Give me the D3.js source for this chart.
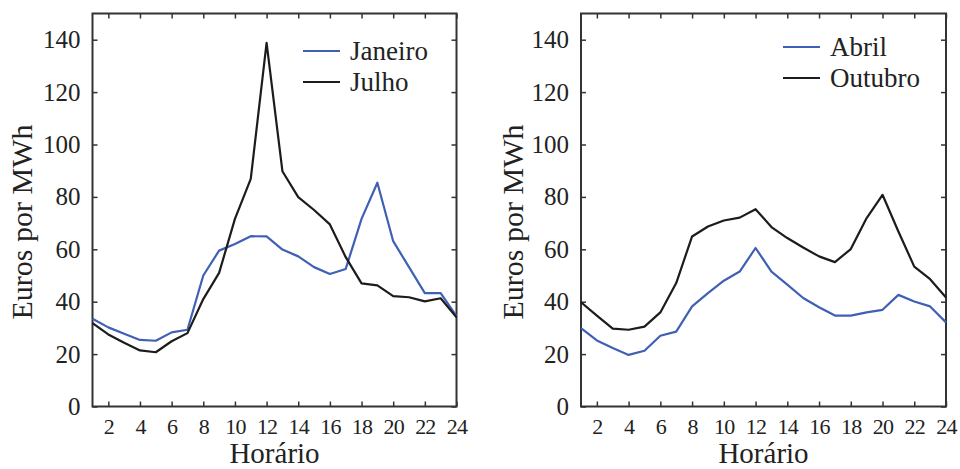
<!DOCTYPE html>
<html><head><meta charset="utf-8">
<script src="https://cdn.jsdelivr.net/npm/d3@7"></script>
<style>body{margin:0;background:#fff}svg{display:block}</style>
</head><body><svg id="c" width="960" height="469"></svg>
<script>
const hours = d3.range(1, 25);
const xTicks = [2,4,6,8,10,12,14,16,18,20,22,24];
const yTicks = [0,20,40,60,80,100,120,140];
const janeiro = [33.5,30.2,27.8,25.4,25.1,28.3,29.3,50,59.5,62,65,64.9,59.9,57.3,53.2,50.6,52.5,71.6,85.4,63.1,53.2,43.3,43.3,34.5];
const julho   = [31.8,27.5,24.3,21.4,20.7,24.9,28,41,51,71.6,86.9,138.8,89.8,79.9,75,69.5,57,47,46.2,42.1,41.7,40.1,41.3,34];
const abril   = [29.9,25.2,22.3,19.7,21.3,27,28.6,38.2,43.3,48,51.5,60.5,51.5,46.5,41.4,37.9,34.7,34.7,35.9,36.9,42.6,40.1,38.2,32.1];
const outubro = [39.8,34.7,29.7,29.3,30.5,35.9,47.1,64.9,68.7,71,72.1,75.3,68.5,64.3,60.7,57.3,55.1,60.1,71.9,80.8,66.8,53.4,48.6,41.6];
const panels = [
  {left:92.5, right:456.5, titleX:31.5, series:[{name:"Janeiro",values:janeiro,color:"#3f60b5"},{name:"Julho",values:julho,color:"#1c1c1c"}], legX:303, legY:51},
  {left:581, right:946, titleX:523, series:[{name:"Abril",values:abril,color:"#3f60b5"},{name:"Outubro",values:outubro,color:"#1c1c1c"}], legX:783, legY:47}
];
const plotTop = 13.5, plotBottom = 406.5;
const FONT = "'Liberation Serif', 'Times New Roman', Times, 'DejaVu Serif', serif";
const svg = d3.select("#c");
panels.forEach(p => {
  const x = d3.scaleLinear().domain([1,24]).range([p.left,p.right]);
  const y = d3.scaleLinear().domain([0,150]).range([plotBottom,plotTop]);
  const g = svg.append("g");
  const ax = g.append("g").attr("transform",`translate(0,${plotBottom})`)
    .call(d3.axisBottom(x).tickValues(xTicks).tickSizeInner(-5).tickSizeOuter(0).tickPadding(12).tickFormat(d3.format("d")));
  const axT = g.append("g").attr("transform",`translate(0,${plotTop})`)
    .call(d3.axisTop(x).tickValues(xTicks).tickSizeInner(-5).tickSizeOuter(0).tickFormat(""));
  const ay = g.append("g").attr("transform",`translate(${p.left},0)`)
    .call(d3.axisLeft(y).tickValues(yTicks).tickSizeInner(-5).tickSizeOuter(0).tickPadding(12));
  const ayR = g.append("g").attr("transform",`translate(${p.right},0)`)
    .call(d3.axisRight(y).tickValues(yTicks).tickSizeInner(-5).tickSizeOuter(0).tickFormat(""));
  [ax,axT,ay,ayR].forEach(a=>{a.attr("font-family",null);a.select(".domain").remove();a.selectAll("line").attr("stroke","#333").attr("stroke-width",1.5);});
  ax.selectAll("text").style("font-family",FONT).attr("font-size",22).attr("fill","#222").attr("dy","0.71em").attr("letter-spacing",-0.8);
  ay.selectAll("text").style("font-family",FONT).attr("font-size",25).attr("fill","#222");
  g.append("rect").attr("x",p.left).attr("y",plotTop).attr("width",p.right-p.left).attr("height",plotBottom-plotTop)
    .attr("fill","none").attr("stroke","#333").attr("stroke-width",2);
  const line = d3.line().x((d,i)=>x(hours[i])).y(d=>y(d));
  p.series.forEach(s=>{
    g.append("path").datum(s.values).attr("d",line).attr("fill","none").attr("stroke",s.color).attr("stroke-width",2.2).attr("stroke-linejoin","round");
  });
  p.series.forEach((s,i)=>{
    const ly = p.legY + i*31;
    g.append("line").attr("x1",p.legX).attr("x2",p.legX+37).attr("y1",ly).attr("y2",ly).attr("stroke",s.color).attr("stroke-width",2.2);
    g.append("text").style("font-family",FONT).attr("fill","#222").attr("x",p.legX+47).attr("y",ly).attr("dy","0.33em").attr("font-size",27).text(s.name);
  });
  g.append("text").style("font-family",FONT).attr("fill","#222").attr("x",(p.left+p.right)/2).attr("y",463).attr("text-anchor","middle").attr("font-size",29).text("Horário");
  g.append("text").style("font-family",FONT).attr("fill","#222").attr("transform",`translate(${p.titleX},222) rotate(-90)`).attr("text-anchor","middle").attr("font-size",30).text("Euros por MWh");
});
</script></body></html>
